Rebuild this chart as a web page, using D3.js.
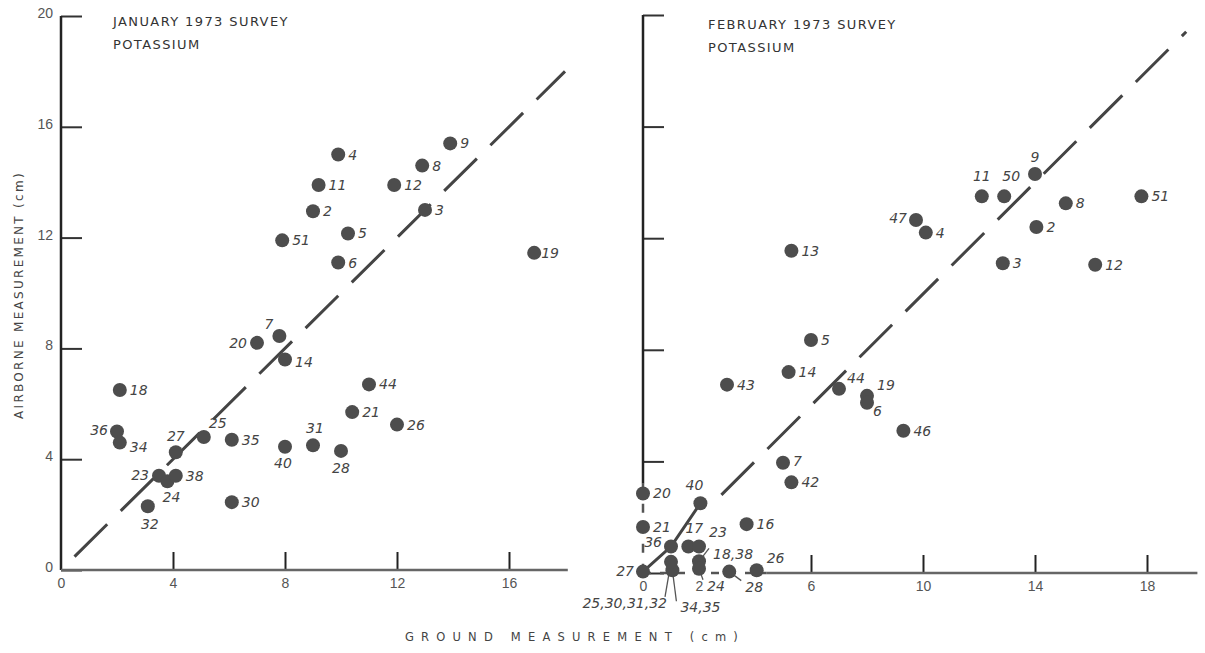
<!DOCTYPE html>
<html>
<head>
<meta charset="utf-8">
<script src="https://cdn.jsdelivr.net/npm/d3@7"></script>
<style>
  body { margin: 0; background: #fff; }
  svg { display: block; }
  .tick text { font-family: "Liberation Sans", sans-serif; font-size: 14px; fill: #555; }
  .ptlabel { font-family: "DejaVu Sans", sans-serif; font-style: italic; font-size: 14px; fill: #444; }
  .title { font-family: "DejaVu Sans", sans-serif; font-size: 13px; fill: #333; letter-spacing: 1.4px; }
</style>
</head>
<body>
<div id="chart"></div>
<script>
const W = 1205, H = 653;

// January survey (station, ground cm, airborne cm)
const janStations = ["4","9","8","11","12","2","3","5","51","6","19","20","7","14","18","44","21","26",
                     "36","34","27","25","35","40","31","28","23","24","38","32","30"];
const janGround   = [9.9,13.9,12.9,9.2,11.9,9.0,13.0,10.25,7.9,9.9,16.9,7.0,7.8,8.0,2.1,11.0,10.4,12.0,
                     2.0,2.1,4.1,5.1,6.1,8.0,9.0,10.0,3.5,3.8,4.1,3.1,6.1];
const janAirborne = [15.0,15.4,14.6,13.9,13.9,12.95,13.0,12.15,11.9,11.1,11.45,8.2,8.45,7.6,6.5,6.7,5.7,5.25,
                     5.0,4.6,4.25,4.8,4.7,4.45,4.5,4.3,3.4,3.2,3.4,2.3,2.45];

// February survey
const febStations = ["9","11","50","8","51","47","4","2","13","3","12","5","14","43","44","19","6","46",
                     "7","42","20","40","16","21","36","17","23","34,35","18,38","27","25,30,31,32","24","28","26"];
const febGround   = [14.0,12.1,12.9,15.1,17.8,9.75,10.1,14.05,5.3,12.85,16.15,6.0,5.2,3.0,7.0,8.0,8.0,9.3,
                     5.0,5.3,0,2.05,3.7,0,1.0,1.62,2.0,1.05,2.0,0,1.0,2.0,3.08,4.06];
const febAirborne = [14.3,13.5,13.5,13.25,13.5,12.65,12.2,12.4,11.55,11.1,11.05,8.35,7.2,6.75,6.6,6.35,6.1,5.1,
                     3.95,3.25,2.85,2.5,1.75,1.65,0.95,0.95,0.95,0.1,0.42,0.05,0.4,0.15,0.05,0.1];

const janXTicks = [0, 4, 8, 12, 16];
const febXTicks = [0, 2, 6, 10, 14, 18];
const yTicks = [0, 4, 8, 12, 16, 20];
const oneToOne = [0, 18];        // Jan 1:1 line extent
const oneToOneFeb = [2.8, 19.4]; // Feb 1:1 line extent

// label offsets [dx, dy, anchor, leader]
const janPlace = {
  "20": [-10, 5, "end"], "7": [-6, -7, "end"], "14": [10, 8], "36": [-9, 3, "end"], "34": [10, 9],
  "27": [0, -11, "middle"], "25": [5, -9], "23": [-10, 4, "end"], "24": [4, 21, "middle"],
  "32": [2, 23, "middle"], "40": [-2, 21, "middle"], "31": [2, -12, "middle"], "28": [0, 22, "middle"],
  "19": [7, 5]
};
const febPlace = {
  "9": [0, -12, "middle"], "11": [0, -15, "middle"], "50": [7, -15, "middle"], "47": [-9, 3, "end"],
  "40": [-6, -13, "middle"], "36": [-9, 1, "end"], "17": [6, -13, "middle"], "23": [10, -9],
  "27": [-9, 4, "end"], "18,38": [14, -2, "start", true], "24": [8, 22, "start", true],
  "28": [16, 20, "start", true], "26": [10, -7], "25,30,31,32": [-4, 46, "end", true],
  "34,35": [8, 42, "start", true], "19": [10, -6], "6": [6, 13], "44": [8, -6], "7": [10, 3]
};

const svg = d3.select("#chart").append("svg").attr("width", W).attr("height", H);

function drawPanel(opt) {
  const x = d3.scaleLinear().domain([0, 20]).range(opt.xRange);
  const y = d3.scaleLinear().domain([0, 20]).range(opt.yRange);
  const g = svg.append("g");
  const pts = opt.stations.map((s, i) => ({id: s, gx: opt.ground[i], ay: opt.air[i]}));

  // y axis, ticks pointing inward
  const ya = g.append("g").attr("transform", `translate(${x(0)},0)`)
    .call(d3.axisLeft(y).tickValues(yTicks).tickSize(-21).tickPadding(8)
      .tickFormat(opt.yLabels ? d3.format("d") : ""));
  ya.select(".domain").remove();
  ya.selectAll(".tick line").attr("stroke", "#333").attr("stroke-width", 2);
  ya.selectAll(".tick text").attr("dy", "0.1em");

  // x axis, ticks pointing up
  const xa = g.append("g").attr("transform", `translate(0,${y(0)})`)
    .call(d3.axisBottom(x).tickValues(opt.xTicks).tickSize(-18).tickPadding(8));
  xa.select(".domain").remove();
  xa.selectAll(".tick line").attr("stroke", "#222").attr("stroke-width", 2)
    .filter(d => d < opt.firstXTick).remove();

  // axis lines
  g.append("line").attr("x1", x(0)).attr("x2", x(0)).attr("y1", y(20)).attr("y2", y(opt.ySolidFrom))
    .attr("stroke", "#222").attr("stroke-width", 2.5);
  g.append("line").attr("x1", x(opt.xSolidFrom)).attr("x2", x(opt.xEnd)).attr("y1", y(0)).attr("y2", y(0))
    .attr("stroke", "#666").attr("stroke-width", 2.5);
  if (opt.ySolidFrom > 0) {
    g.append("line").attr("x1", x(0)).attr("x2", x(0)).attr("y1", y(opt.ySolidFrom)).attr("y2", y(0))
      .attr("stroke", "#555").attr("stroke-width", 2.5).attr("stroke-dasharray", "9,11");
  }
  if (opt.xSolidFrom > 0) {
    g.append("line").attr("x1", x(0)).attr("x2", x(opt.xSolidFrom)).attr("y1", y(0)).attr("y2", y(0))
      .attr("stroke", "#555").attr("stroke-width", 2.5).attr("stroke-dasharray", "8,9");
  }

  // 1:1 line
  g.append("line")
    .attr("x1", x(opt.line[0])).attr("y1", y(opt.line[0]))
    .attr("x2", x(opt.line[1])).attr("y2", y(opt.line[1]))
    .attr("stroke", "#444").attr("stroke-width", 3)
    .attr("stroke-dasharray", "46,19").attr("stroke-dashoffset", opt.dashOffset);

  // joining line through selected stations
  if (opt.join) {
    const jp = opt.join.map(id => pts.find(p => p.id === id));
    g.append("path").attr("d", d3.line().x(p => x(p.gx)).y(p => y(p.ay))(jp))
      .attr("fill", "none").attr("stroke", "#444").attr("stroke-width", 3);
  }

  // leaders
  pts.forEach(p => {
    const pl = opt.place[p.id];
    if (pl && pl[3]) {
      const px = x(p.gx), py = y(p.ay);
      const tx = px + pl[0] + (pl[2] === "end" ? -2 : -4), ty = py + pl[1] - 11;
      g.append("line").attr("x1", px).attr("y1", py).attr("x2", tx).attr("y2", ty)
        .attr("stroke", "#555").attr("stroke-width", 1.3);
    }
  });

  g.selectAll("circle.pt").data(pts).join("circle").attr("class", "pt")
    .attr("cx", d => x(d.gx)).attr("cy", d => y(d.ay)).attr("r", 7).attr("fill", "#4d4d4d");

  g.selectAll("text.ptlabel").data(pts).join("text").attr("class", "ptlabel")
    .attr("x", d => x(d.gx) + (opt.place[d.id] || [10])[0])
    .attr("y", d => y(d.ay) + (opt.place[d.id] || [10, 5])[1])
    .attr("text-anchor", d => (opt.place[d.id] || [])[2] || "start")
    .text(d => d.id);

  // title
  g.append("text").attr("class", "title").attr("x", opt.titleX).attr("y", opt.titleY).text(opt.title[0]);
  g.append("text").attr("class", "title").attr("x", opt.titleX).attr("y", opt.titleY + 23).text(opt.title[1]);
}

drawPanel({
  stations: janStations, ground: janGround, air: janAirborne,
  xRange: [61, 621], yRange: [570, 16], xTicks: janXTicks, firstXTick: 4, yLabels: true,
  ySolidFrom: 0, xSolidFrom: 0, xEnd: 18.1, line: oneToOne, dashOffset: 46,
  place: janPlace, title: ["JANUARY 1973 SURVEY", "POTASSIUM"], titleX: 113, titleY: 26
});

drawPanel({
  stations: febStations, ground: febGround, air: febAirborne,
  xRange: [643, 1203], yRange: [573, 15], xTicks: febXTicks, firstXTick: 6, yLabels: false,
  ySolidFrom: 3.2, xSolidFrom: 4.4, xEnd: 19.8, line: oneToOneFeb, dashOffset: 0,
  join: ["27", "36", "40"],
  place: febPlace, title: ["FEBRUARY 1973 SURVEY", "POTASSIUM"], titleX: 708, titleY: 29
});

// axis titles
svg.append("text")
  .attr("transform", "translate(23,295) rotate(-90)")
  .attr("text-anchor", "middle")
  .style("font-family", "DejaVu Sans, sans-serif").style("font-size", "12px")
  .style("letter-spacing", "2.3px").style("fill", "#444")
  .text("AIRBORNE MEASUREMENT (cm)");

svg.append("text")
  .attr("x", 575).attr("y", 641).attr("text-anchor", "middle")
  .style("font-family", "DejaVu Sans, sans-serif").style("font-size", "11.5px")
  .style("letter-spacing", "7.2px").style("fill", "#444")
  .text("GROUND MEASUREMENT (cm)");
</script>
</body>
</html>
